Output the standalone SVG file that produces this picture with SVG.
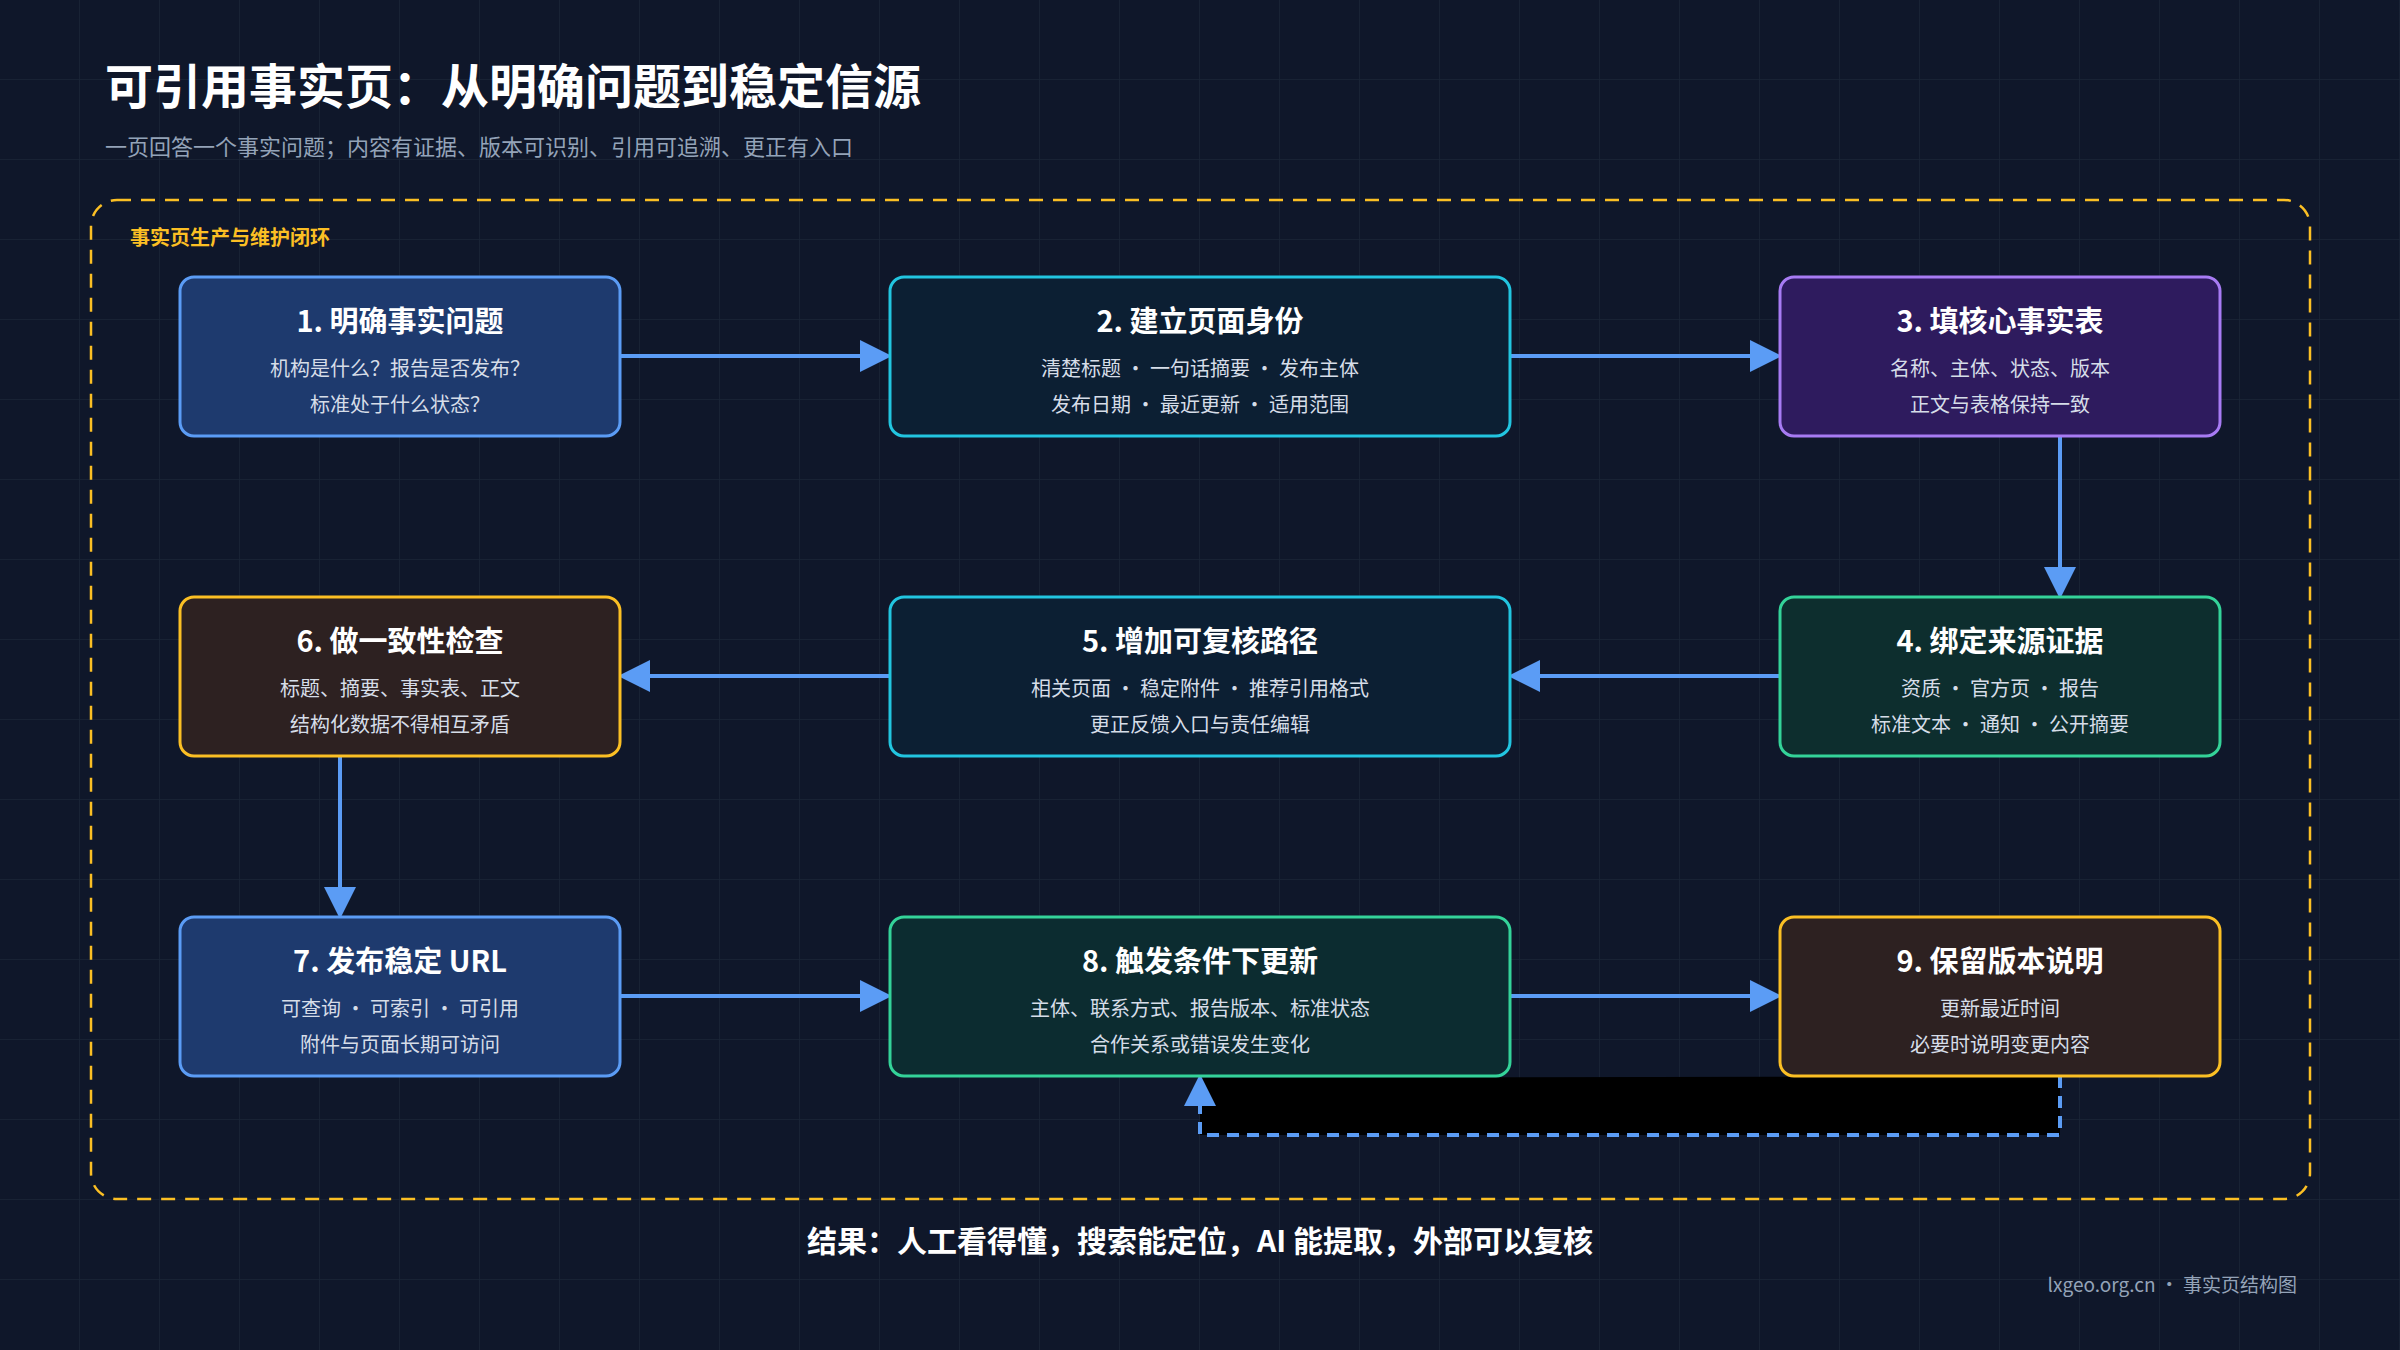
<svg xmlns="http://www.w3.org/2000/svg" width="2400" height="1350" viewBox="0 0 2400 1350">
<defs>
<pattern id="grid" width="80" height="80" patternUnits="userSpaceOnUse"><path d="M80 0V80M0 80H80" fill="none" stroke="#1a2538" stroke-width="1.5"/></pattern>
<marker id="ah" markerWidth="8" markerHeight="8" refX="7" refY="4" orient="auto" markerUnits="strokeWidth"><path d="M0 0L8 4L0 8Z" fill="#5b9cf5"/></marker>
</defs>
<style>
text{font-family:"Noto Sans CJK SC","Liberation Sans",sans-serif}
.t{fill:#fff;font-size:29px;font-weight:700;text-anchor:middle}
.s{fill:#d6dde8;font-size:20px;text-anchor:middle}
.n rect{stroke-width:3}
.c{stroke:#5b9cf5;stroke-width:4;fill:none;marker-end:url(#ah)}
</style>
<rect width="2400" height="1350" fill="#0f172a"/>
<rect width="2400" height="1350" fill="url(#grid)"/>
<text x="105" y="104" fill="#fff" font-size="48" font-weight="700">可引用事实页：从明确问题到稳定信源</text>
<text x="105" y="155" fill="#94a3b8" font-size="22">一页回答一个事实问题；内容有证据、版本可识别、引用可追溯、更正有入口</text>
<rect x="91" y="200" width="2219" height="999" rx="26" fill="none" stroke="#fbbf24" stroke-width="2.5" stroke-dasharray="14 10"/>
<text x="130" y="245" fill="#fbbf24" font-size="20" font-weight="700">事实页生产与维护闭环</text>
<g id="connectors">
<path class="c" d="M620 356H888"/>
<path class="c" d="M1510 356H1778"/>
<path class="c" d="M2060 436V595"/>
<path class="c" d="M1780 676H1512"/>
<path class="c" d="M890 676H622"/>
<path class="c" d="M340 756V915"/>
<path class="c" d="M620 996H888"/>
<path class="c" d="M1510 996H1778"/>
<path class="c" d="M2060 1076V1135H1200V1078" fill="#000" style="fill:#000" stroke-dasharray="12 8"/>
</g>
<g id="n1" class="n"><rect x="180" y="277" width="440" height="159" rx="14" fill="#1e3a6e" stroke="#5b9cf5"/><text class="t" x="400" y="332">1. 明确事实问题</text><text class="s" x="400" y="376">机构是什么？报告是否发布？</text><text class="s" x="400" y="412">标准处于什么状态？</text></g>
<g id="n2" class="n"><rect x="890" y="277" width="620" height="159" rx="14" fill="#0c1f33" stroke="#22c5e0"/><text class="t" x="1200" y="332">2. 建立页面身份</text><text class="s" x="1200" y="376">清楚标题 · 一句话摘要 · 发布主体</text><text class="s" x="1200" y="412">发布日期 · 最近更新 · 适用范围</text></g>
<g id="n3" class="n"><rect x="1780" y="277" width="440" height="159" rx="14" fill="#2e1b5e" stroke="#a77bf3"/><text class="t" x="2000" y="332">3. 填核心事实表</text><text class="s" x="2000" y="376">名称、主体、状态、版本</text><text class="s" x="2000" y="412">正文与表格保持一致</text></g>
<g id="n4" class="n"><rect x="1780" y="597" width="440" height="159" rx="14" fill="#0d2e2e" stroke="#34d399"/><text class="t" x="2000" y="652">4. 绑定来源证据</text><text class="s" x="2000" y="696">资质 · 官方页 · 报告</text><text class="s" x="2000" y="732">标准文本 · 通知 · 公开摘要</text></g>
<g id="n5" class="n"><rect x="890" y="597" width="620" height="159" rx="14" fill="#0c1f33" stroke="#22c5e0"/><text class="t" x="1200" y="652">5. 增加可复核路径</text><text class="s" x="1200" y="696">相关页面 · 稳定附件 · 推荐引用格式</text><text class="s" x="1200" y="732">更正反馈入口与责任编辑</text></g>
<g id="n6" class="n"><rect x="180" y="597" width="440" height="159" rx="14" fill="#2d2121" stroke="#fbbf24"/><text class="t" x="400" y="652">6. 做一致性检查</text><text class="s" x="400" y="696">标题、摘要、事实表、正文</text><text class="s" x="400" y="732">结构化数据不得相互矛盾</text></g>
<g id="n7" class="n"><rect x="180" y="917" width="440" height="159" rx="14" fill="#1e3a6e" stroke="#5b9cf5"/><text class="t" x="400" y="972">7. 发布稳定 URL</text><text class="s" x="400" y="1016">可查询 · 可索引 · 可引用</text><text class="s" x="400" y="1052">附件与页面长期可访问</text></g>
<g id="n8" class="n"><rect x="890" y="917" width="620" height="159" rx="14" fill="#0c2c30" stroke="#34d399"/><text class="t" x="1200" y="972">8. 触发条件下更新</text><text class="s" x="1200" y="1016">主体、联系方式、报告版本、标准状态</text><text class="s" x="1200" y="1052">合作关系或错误发生变化</text></g>
<g id="n9" class="n"><rect x="1780" y="917" width="440" height="159" rx="14" fill="#2d2121" stroke="#fbbf24"/><text class="t" x="2000" y="972">9. 保留版本说明</text><text class="s" x="2000" y="1016">更新最近时间</text><text class="s" x="2000" y="1052">必要时说明变更内容</text></g>
<text x="1200" y="1252" fill="#fff" font-size="30" font-weight="700" text-anchor="middle">结果：人工看得懂，搜索能定位，AI 能提取，外部可以复核</text>
<text x="2297" y="1292" fill="#94a3b8" font-size="19" text-anchor="end">lxgeo.org.cn · 事实页结构图</text>
</svg>
